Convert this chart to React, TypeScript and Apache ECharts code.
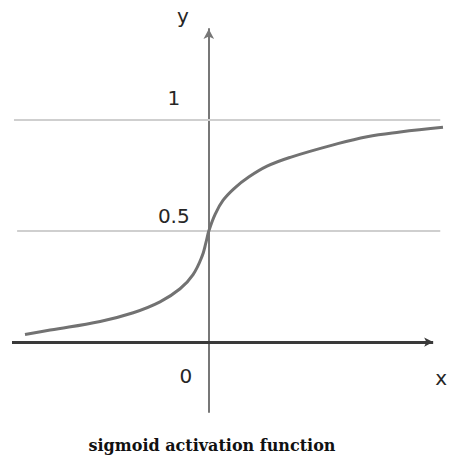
import React, { useEffect, useRef } from "react";
import * as echarts from "echarts";

// Sigmoid-like curve (x in axis units, y value)
const curveX = [-4.67, -4.03, -2.76, -1.92, -1.24, -0.73, -0.4, -0.17, -0.07, 0, 0.16, 0.36, 0.67, 0.97, 1.48, 2.07, 3.16, 4.02, 4.86, 5.95];
const curveY = [0.034, 0.054, 0.093, 0.132, 0.181, 0.24, 0.304, 0.387, 0.45, 0.5, 0.575, 0.638, 0.696, 0.738, 0.792, 0.832, 0.888, 0.925, 0.946, 0.967];

// Reference (horizontal) lines
const refLevels = [1, 0.5];
const refLabels = ["1", "0.5"];
const refStartX = [-4.95, -4.87];
const refEndX = [5.88, 5.88];

const originLabel = "0";
const xName = "x";
const yName = "y";
const title = "sigmoid activation function";

const X_MIN = -5;
const X_MAX = 5.95;
const X_AXIS_END = 5.7;
const Y_MIN = -0.315;
const Y_MAX = 1.41;

export default function App() {
  const ref = useRef<HTMLDivElement>(null);
  useEffect(() => {
    if (!ref.current) return;
    const chart = echarts.init(ref.current, null, { renderer: "svg" });
    const labelFont = {
      fontFamily: "DejaVu Sans",
      fontSize: 20,
      fill: "#262626",
    };
    chart.setOption({
      animation: false,
      backgroundColor: "#ffffff",
      grid: { left: 12, right: 13, top: 29, bottom: 48, containLabel: false, outerBoundsMode: "none" },
      xAxis: {
        type: "value",
        min: X_MIN,
        max: X_MAX,
        axisLine: { show: false, onZero: true },
        axisTick: { show: false },
        axisLabel: { show: false },
        splitLine: { show: false },
      },
      yAxis: {
        type: "value",
        min: Y_MIN,
        max: Y_MAX,
        axisLine: {
          show: true,
          onZero: true,
          lineStyle: { color: "#777777", width: 2 },
          symbol: ["none", "arrow"],
          symbolSize: [8, 10],
        },
        axisTick: { show: false },
        axisLabel: { show: false },
        splitLine: { show: false },
      },
      series: [
        ...refLevels.map((lv, i) => ({
          type: "line",
          silent: true,
          symbol: "none",
          z: 1,
          lineStyle: { color: "#cfcfcf", width: 2 },
          data: [
            [refStartX[i], lv],
            [refEndX[i], lv],
          ],
        })),
        {
          type: "line",
          symbol: "none",
          smooth: 0.4,
          z: 3,
          lineStyle: { color: "#727272", width: 3 },
          data: curveX.map((x, i) => [x, curveY[i]]),
          markLine: {
            silent: true,
            symbol: ["none", "arrow"],
            symbolSize: [7, 9],
            label: { show: false },
            emphasis: { disabled: true },
            lineStyle: { color: "#3a3a3a", width: 3, type: "solid" },
            data: [
              [
                { coord: [X_MIN, 0] },
                { coord: [X_AXIS_END, 0] },
              ],
            ],
          },
        },
      ],
    });

    const px = (x: number, y: number) => chart.convertToPixel({ gridIndex: 0 }, [x, y]) as number[];
    const graphics: any[] = [];
    refLevels.forEach((lv, i) => {
      const p = px(0, lv);
      graphics.push({
        type: "text",
        x: p[0] - 35,
        y: p[1] - (lv === 1 ? 22 : 15),
        style: { ...labelFont, text: refLabels[i], align: "center", verticalAlign: "middle" },
      });
    });
    const o = px(0, 0);
    graphics.push({
      type: "text",
      x: o[0] - 23,
      y: o[1] + 34,
      style: { ...labelFont, text: originLabel, align: "center", verticalAlign: "middle" },
    });
    const yt = px(0, Y_MAX);
    graphics.push({
      type: "text",
      x: yt[0] - 26,
      y: yt[1] - 13,
      style: { ...labelFont, text: yName, align: "center", verticalAlign: "middle" },
    });
    const xe = px(X_AXIS_END, 0);
    graphics.push({
      type: "text",
      x: xe[0] + 8,
      y: xe[1] + 36,
      style: { ...labelFont, text: xName, align: "center", verticalAlign: "middle" },
    });
    graphics.push({
      type: "text",
      x: 212,
      y: 445,
      style: {
        text: title,
        fontFamily: "DejaVu Serif",
        fontWeight: "bold",
        fontSize: 16,
        fill: "#111111",
        align: "center",
        verticalAlign: "middle",
      },
    });
    chart.setOption({ graphic: graphics });
    return () => chart.dispose();
  }, []);
  return (
    <div
      ref={ref}
      style={{ position: "fixed", left: 0, top: 0, width: 456, height: 460, background: "#ffffff" }}
    />
  );
}
